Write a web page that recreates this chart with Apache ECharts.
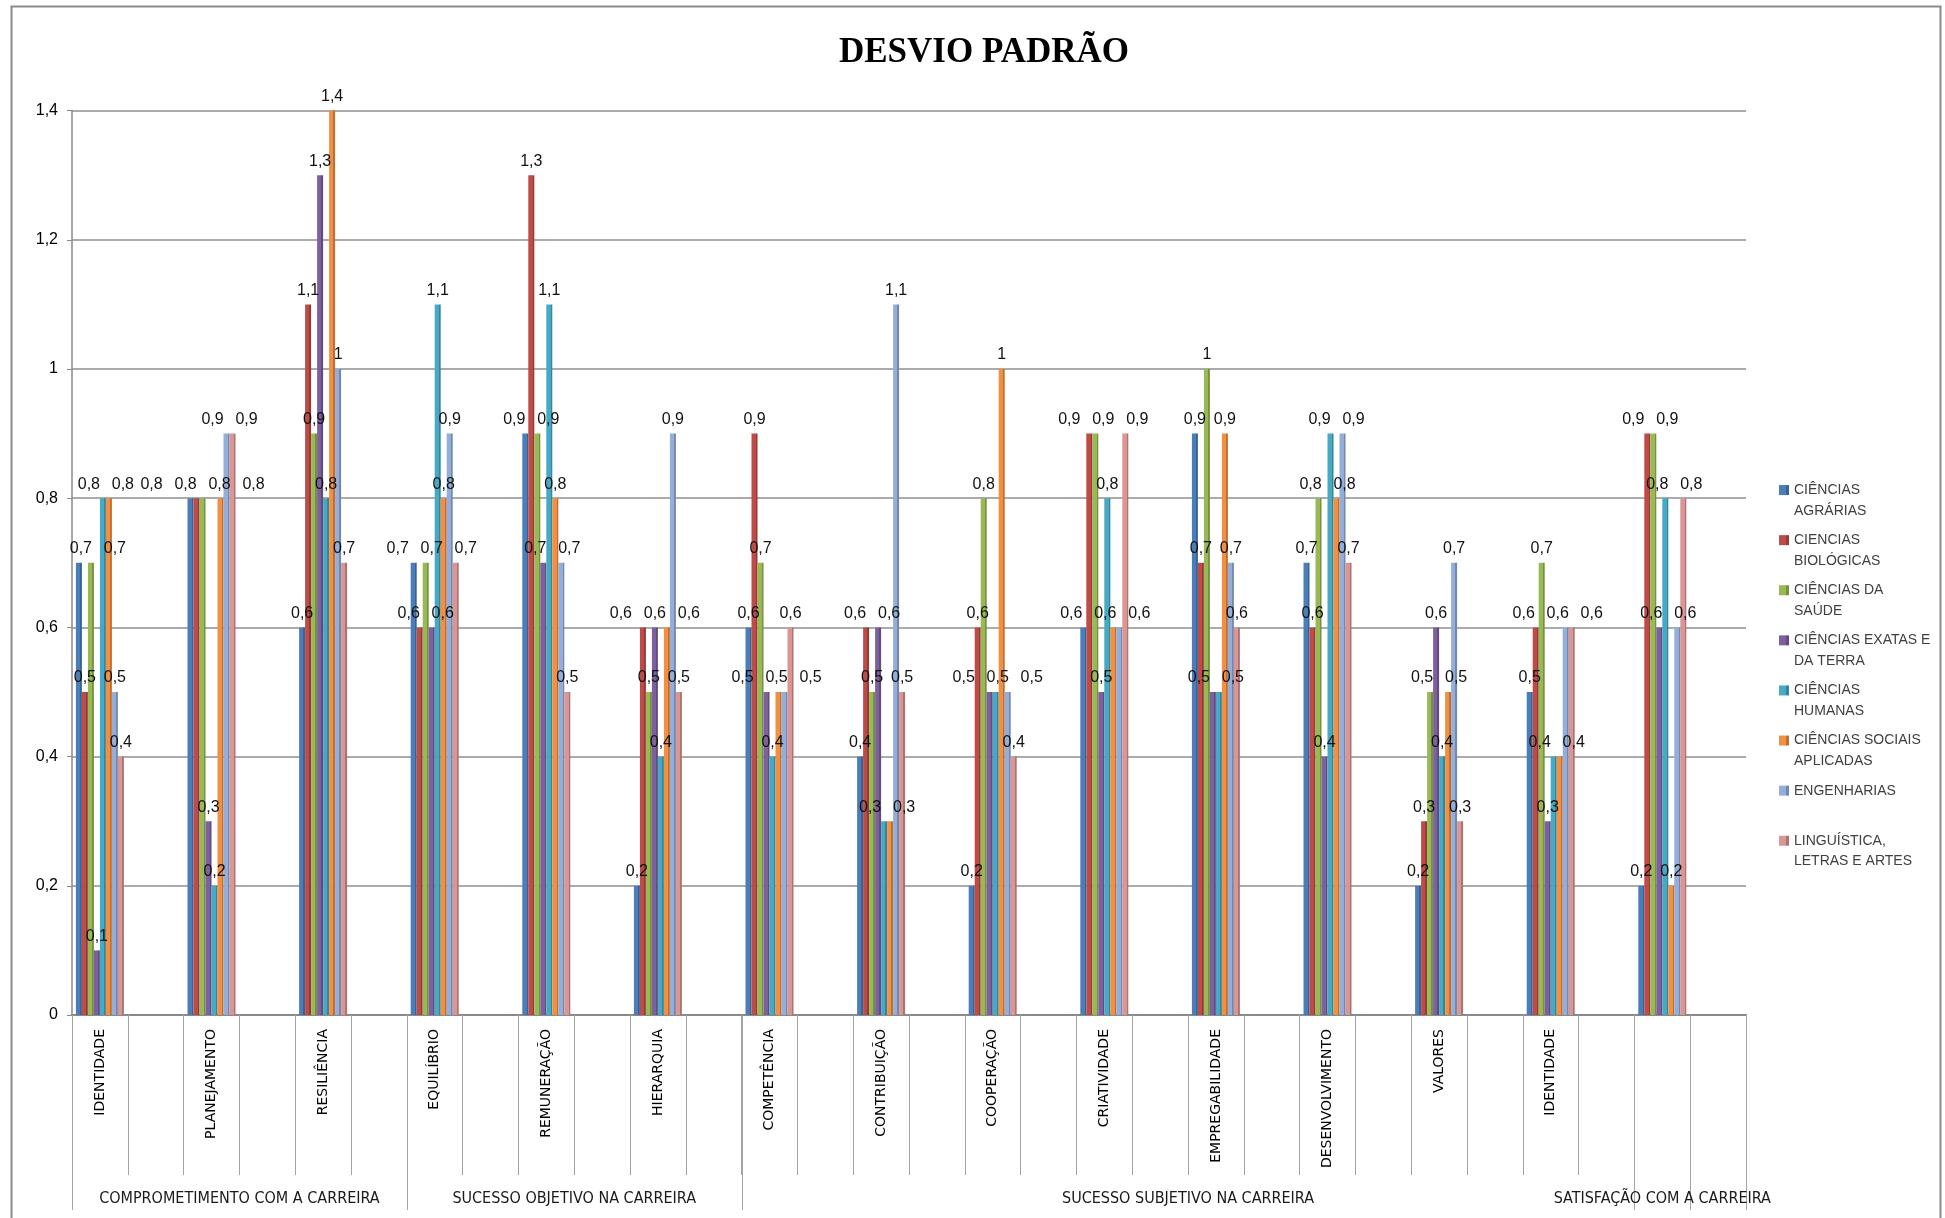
<!DOCTYPE html>
<html>
<head>
<meta charset="utf-8">
<script src="https://cdn.jsdelivr.net/npm/echarts@6/dist/echarts.min.js"></script>
<style>
  html, body { margin: 0; padding: 0; background: #ffffff; }
  #grafico { width: 1945px; height: 1218px; }
</style>
</head>
<body>
<div id="grafico"></div>
<script>
// Dimensões avaliadas (a última coluna pertence à satisfação com a carreira)
const categorias = ['IDENTIDADE', 'PLANEJAMENTO', 'RESILIÊNCIA', 'EQUILÍBRIO', 'REMUNERAÇÃO', 'HIERARQUIA',
  'COMPETÊNCIA', 'CONTRIBUIÇÃO', 'COOPERAÇÃO', 'CRIATIVIDADE', 'EMPREGABILIDADE', 'DESENVOLVIMENTO',
  'VALORES', 'IDENTIDADE', ''];

// Desvio padrão por área do conhecimento
const cienciasAgrarias    = [0.7, 0.8, 0.6, 0.7, 0.9, 0.2, 0.6, 0.4, 0.2, 0.6, 0.9, 0.7, 0.2, 0.5, 0.2];
const cienciasBiologicas  = [0.5, 0.8, 1.1, 0.6, 1.3, 0.6, 0.9, 0.6, 0.6, 0.9, 0.7, 0.6, 0.3, 0.6, 0.9];
const cienciasSaude       = [0.7, 0.8, 0.9, 0.7, 0.9, 0.5, 0.7, 0.5, 0.8, 0.9, 1.0, 0.8, 0.5, 0.7, 0.9];
const cienciasExatas      = [0.1, 0.3, 1.3, 0.6, 0.7, 0.6, 0.5, 0.6, 0.5, 0.5, 0.5, 0.4, 0.6, 0.3, 0.6];
const cienciasHumanas     = [0.8, 0.2, 0.8, 1.1, 1.1, 0.4, 0.4, 0.3, 0.5, 0.8, 0.5, 0.9, 0.4, 0.4, 0.8];
const cienciasSociais     = [0.8, 0.8, 1.4, 0.8, 0.8, 0.6, 0.5, 0.3, 1.0, 0.6, 0.9, 0.8, 0.5, 0.4, 0.2];
const engenharias         = [0.5, 0.9, 1.0, 0.9, 0.7, 0.9, 0.5, 1.1, 0.5, 0.6, 0.7, 0.9, 0.7, 0.6, 0.6];
const linguisticaLetras   = [0.4, 0.9, 0.7, 0.7, 0.5, 0.5, 0.6, 0.5, 0.4, 0.9, 0.6, 0.7, 0.3, 0.6, 0.8];

const nomesSeries = ['CIÊNCIAS AGRÁRIAS', 'CIENCIAS BIOLÓGICAS', 'CIÊNCIAS DA SAÚDE', 'CIÊNCIAS EXATAS E DA TERRA',
  'CIÊNCIAS HUMANAS', 'CIÊNCIAS SOCIAIS APLICADAS', 'ENGENHARIAS', 'LINGUÍSTICA, LETRAS E ARTES'];
const linhasLegenda = [['CIÊNCIAS', 'AGRÁRIAS'], ['CIENCIAS', 'BIOLÓGICAS'], ['CIÊNCIAS DA', 'SAÚDE'],
  ['CIÊNCIAS EXATAS E', 'DA TERRA'], ['CIÊNCIAS', 'HUMANAS'], ['CIÊNCIAS SOCIAIS', 'APLICADAS'],
  ['ENGENHARIAS', ' '], ['LINGUÍSTICA,', 'LETRAS E ARTES']];

// Blocos de dimensões: [rótulo, primeira categoria, categoria seguinte à última]
const grupos = [
  ['COMPROMETIMENTO COM A CARREIRA', 0, 3],
  ['SUCESSO OBJETIVO NA CARREIRA', 3, 6],
  ['SUCESSO SUBJETIVO NA CARREIRA', 6, 14],
  ['SATISFAÇÃO COM A CARREIRA', 14, 15]
];

const marcasEixoY = [0, 0.2, 0.4, 0.6, 0.8, 1.0, 1.2, 1.4];

const coresSeries = ['#4a7ebb', '#be4b48', '#98b954', '#7d60a0', '#46aac5', '#f38f40', '#93aedb', '#d99694'];

const valoresSeries = [cienciasAgrarias, cienciasBiologicas, cienciasSaude, cienciasExatas,
  cienciasHumanas, cienciasSociais, engenharias, linguisticaLetras];

function formatar(v) {
  return String(Math.round(v * 10) / 10).replace('.', ',');
}

function escurecer(hex, f) {
  const n = parseInt(hex.slice(1), 16);
  const r = Math.round(((n >> 16) & 255) * f), g = Math.round(((n >> 8) & 255) * f), b = Math.round((n & 255) * f);
  return 'rgb(' + r + ',' + g + ',' + b + ')';
}

// Cada dimensão ocupa uma coluna com barras seguida de uma coluna vazia
const eixoX = [];
categorias.forEach(c => { eixoX.push(c); eixoX.push(''); });

// Rótulos de mesmo valor sobrepostos dentro de uma dimensão são afastados horizontalmente
const LARG_BARRA = 6, DIST_MIN = 26, ESPACO = 34, MIN_PRIMEIRA = 2;
function calcularDeslocamentos() {
  const out = valoresSeries.map(() => []);
  categorias.forEach((_, c) => {
    const porValor = {};
    valoresSeries.forEach((arr, s) => {
      const k = arr[c].toFixed(1);
      (porValor[k] = porValor[k] || []).push(s);
    });
    Object.keys(porValor).forEach(k => {
      let blocos = porValor[k].map(s => ({ membros: [s], centro: s * LARG_BARRA }));
      let mudou = true;
      while (mudou) {
        mudou = false;
        for (let b = 0; b < blocos.length - 1; b++) {
          const A = blocos[b], B = blocos[b + 1];
          const fimA = A.centro + (A.membros.length - 1) / 2 * ESPACO;
          const iniB = B.centro - (B.membros.length - 1) / 2 * ESPACO;
          if (iniB - fimA < DIST_MIN) {
            const membros = A.membros.concat(B.membros);
            const centro = membros.reduce((t, s) => t + s * LARG_BARRA, 0) / membros.length;
            blocos.splice(b, 2, { membros: membros, centro: centro });
            mudou = true;
            break;
          }
        }
      }
      blocos.forEach(B => {
        let ini = B.centro - (B.membros.length - 1) / 2 * ESPACO;
        // na primeira dimensão os rótulos não passam para a esquerda do eixo vertical
        if (c === 0 && ini < MIN_PRIMEIRA) ini = MIN_PRIMEIRA;
        B.membros.forEach((s, i) => {
          out[s][c] = ini + i * ESPACO - s * LARG_BARRA;
        });
      });
    });
  });
  return out;
}
const deslocamentos = calcularDeslocamentos();

const fonteNum = 'Liberation Sans';

const series = valoresSeries.map((valores, s) => {
  const dados = [];
  valores.forEach((v, c) => {
    dados.push({ value: v, label: { offset: [deslocamentos[s][c], 0] } });
    dados.push('-');
  });
  const cor = coresSeries[s];
  return {
    name: nomesSeries[s],
    type: 'bar',
    barWidth: LARG_BARRA,
    barGap: '0%',
    data: dados,
    itemStyle: {
      color: new echarts.graphic.LinearGradient(0, 0, 1, 0, [
        { offset: 0, color: cor },
        { offset: 0.7, color: cor },
        { offset: 0.7, color: escurecer(cor, 0.78) },
        { offset: 1, color: escurecer(cor, 0.78) }
      ])
    },
    label: {
      show: true,
      position: 'top',
      distance: 6,
      fontFamily: fonteNum,
      fontSize: 16,
      color: '#111',
      formatter: p => formatar(p.value)
    },
    animation: false
  };
});

const chart = echarts.init(document.getElementById('grafico'), null, { renderer: 'canvas' });

chart.setOption({
  backgroundColor: '#ffffff',
  animation: false,
  title: {
    text: 'DESVIO PADRÃO',
    left: 979,
    top: 30,
    textAlign: 'center',
    textStyle: { fontFamily: 'Liberation Serif', fontWeight: 'bold', fontSize: 35, color: '#000' }
  },
  legend: {
    orient: 'vertical',
    left: 1774,
    top: 454,
    itemWidth: 10,
    itemHeight: 10,
    itemGap: -12,
    icon: 'rect',
    selectedMode: false,
    data: nomesSeries,
    formatter: nome => ' \n' + linhasLegenda[nomesSeries.indexOf(nome)].join('\n'),
    textStyle: { fontFamily: 'Liberation Sans', fontSize: 14, lineHeight: 20.7, color: '#404040' }
  },
  grid: { left: 72, right: 199, top: 110.6, bottom: 203 },
  xAxis: {
    type: 'category',
    data: eixoX,
    boundaryGap: true,
    axisLine: { lineStyle: { color: '#8a8a8a', width: 2 } },
    axisTick: { show: true, interval: 0, length: 160, lineStyle: { color: '#a4a4a4', width: 1 } },
    axisLabel: { interval: 0, rotate: 90, margin: 14, fontFamily: 'DejaVu Sans', fontSize: 14, color: '#000' },
    splitLine: { show: false }
  },
  yAxis: {
    type: 'value',
    min: marcasEixoY[0],
    max: marcasEixoY[marcasEixoY.length - 1],
    interval: marcasEixoY[1] - marcasEixoY[0],
    axisLine: { show: true, lineStyle: { color: '#8a8a8a', width: 1.5 } },
    axisTick: { show: true, length: 5, lineStyle: { color: '#8a8a8a' } },
    axisLabel: { margin: 14, fontFamily: fonteNum, fontSize: 16, color: '#000', formatter: v => formatar(v) },
    splitLine: { show: true, lineStyle: { color: '#8f8f8f', width: 1.5 } }
  },
  series: series
});

// Linhas divisórias e nomes dos blocos de dimensões abaixo do eixo
const x0 = chart.convertToPixel({ xAxisIndex: 0 }, 0);
const x1 = chart.convertToPixel({ xAxisIndex: 0 }, 1);
const passo = x1 - x0;
const inicio = x0 - passo / 2;
const yEixo = chart.convertToPixel({ yAxisIndex: 0 }, 0);
const limite = c => inicio + c * 2 * passo;

const graficos = [];
const divisorias = new Set();
grupos.forEach(g => { divisorias.add(g[1] * 2); divisorias.add(g[2] * 2); });
divisorias.add(categorias.length * 2 - 1);
divisorias.forEach(i => {
  const x = Math.round(inicio + i * passo) + 0.5;
  graficos.push({
    type: 'line', silent: true,
    shape: { x1: x, y1: yEixo, x2: x, y2: 1210 },
    style: { stroke: '#a4a4a4', lineWidth: 1 }
  });
});
grupos.forEach(g => {
  const ultimo = g[2] - g[1] === 1;
  const cx = ultimo ? limite(g[1]) + passo / 2 : (limite(g[1]) + limite(g[2])) / 2;
  graficos.push({
    type: 'text', silent: true,
    x: cx, y: 1199,
    style: {
      text: g[0], align: 'center', verticalAlign: 'middle',
      font: '16px "DejaVu Sans Condensed"', fill: '#1a1a1a'
    }
  });
});
// Moldura do gráfico
graficos.push({
  type: 'rect', silent: true,
  shape: { x: 11.5, y: 6.5, width: 1929, height: 1240 },
  style: { fill: 'none', stroke: '#8a8a8a', lineWidth: 2 }
});
chart.setOption({ graphic: graficos });
</script>
</body>
</html>
